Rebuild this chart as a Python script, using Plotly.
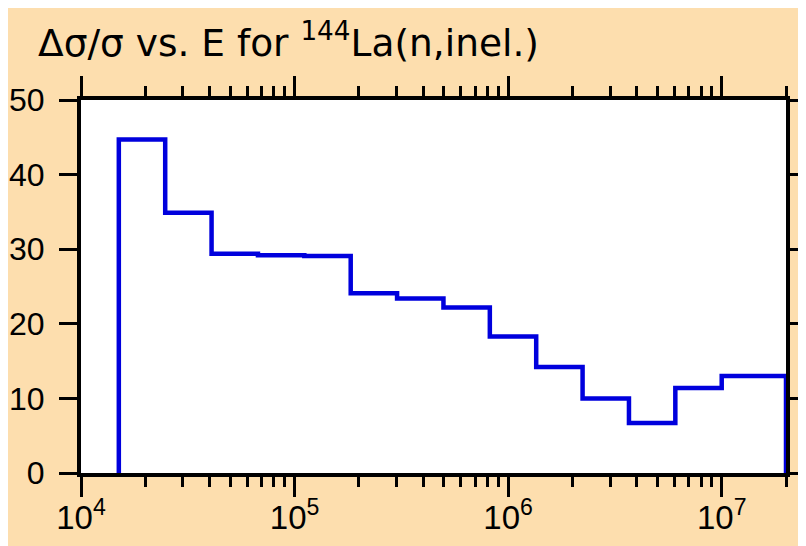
import plotly.graph_objects as go

# bin edges in eV (equal steps of e^0.5, last bin up to 20 MeV)
bin_edges = [1.5035e4, 2.4788e4, 4.0868e4, 6.7379e4, 1.1109e5, 1.83156e5,
             3.01974e5, 4.97871e5, 8.2085e5, 1.353353e6, 2.231302e6,
             3.678794e6, 6.065307e6, 1.0e7, 2.0e7]
# relative uncertainty (%) per bin
rel_unc = [44.7, 34.9, 29.4, 29.2, 29.1, 24.1, 23.4, 22.2, 18.3, 14.2,
           10.0, 6.7, 11.4, 13.0]

x_ticks = [1e4, 1e5, 1e6, 1e7]
x_labels = ["10<sup>4</sup>", "10<sup>5</sup>", "10<sup>6</sup>", "10<sup>7</sup>"]
x_minor = [m * 10 ** k for k in range(4, 8) for m in range(2, 10) if m * 10 ** k <= 2e7]

# step outline: drop to zero at both ends
xs = [bin_edges[0]] + bin_edges[:-1] + [bin_edges[-1], bin_edges[-1]]
ys = [0] + rel_unc + [rel_unc[-1], 0]

bg = "#FDDEAE"
fnt = "Liberation Sans"

fig = go.Figure()
fig.add_trace(go.Scatter(x=xs, y=ys, mode="lines", line_shape="hv",
                         line=dict(color="#0000DD", width=4.5),
                         hoverinfo="skip", showlegend=False))

# page body adds 8px offset, margins account for it
fig.update_layout(
    width=806, height=546,
    paper_bgcolor=bg, plot_bgcolor="white",
    margin=dict(l=73, r=28, t=92, b=81),
    font=dict(family=fnt, color="black", size=32),
    title=dict(text="\u0394\u03c3/\u03c3 vs. E for <sup>144</sup>La(n,inel.)",
               x=30 / 806, xanchor="left", yref="container",
               y=1 - 48 / 546, yanchor="bottom",
               font=dict(family="DejaVu Sans", size=37.5, color="black")),
)
fig.update_xaxes(type="log", range=[4, 7.30103], automargin=False,
                 tickvals=x_ticks, ticktext=x_labels,
                 tickfont=dict(family=fnt, size=33),
                 ticks="outside", ticklen=20, tickwidth=2.5, tickcolor="black",
                 ticklabelstandoff=-8,
                 minor=dict(tickvals=x_minor, ticks="outside", ticklen=10,
                            tickwidth=2.5, tickcolor="black", showgrid=False),
                 showline=True, linewidth=4, linecolor="black", mirror="ticks",
                 showgrid=False, zeroline=False)
fig.update_yaxes(range=[0, 50], dtick=10, automargin=False,
                 tickfont=dict(family=fnt, size=32),
                 ticks="outside", ticklen=18, tickwidth=2.5, tickcolor="black",
                 ticklabelstandoff=8,
                 showline=True, linewidth=4, linecolor="black", mirror="ticks",
                 showgrid=False, zeroline=False)

fig.write_html("out.html")
